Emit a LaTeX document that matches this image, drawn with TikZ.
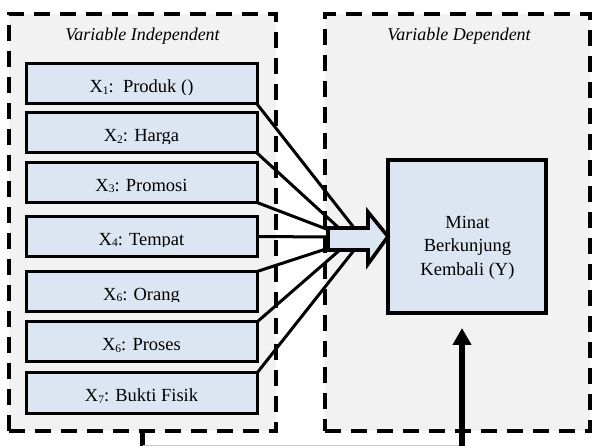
\documentclass[tikz,border=0pt]{standalone}
\usepackage{fontspec}
\setmainfont{Liberation Serif}
\usetikzlibrary{calc,arrows.meta}

\definecolor{panelgray}{HTML}{F2F2F2}
\definecolor{boxblue}{HTML}{DCE6F2}
\definecolor{railgray}{HTML}{C8C8C8}

% small, slightly lowered index digit
\newcommand\xsub[1]{\raisebox{-1.2pt}{\fontsize{11.5}{12}\selectfont #1}}

% label of a variable box, clipped just under its baseline
\newcommand\boxlabel[2]{%
  \begin{scope}
    \clip (#1.north west) rectangle ($(#1.south east)+(0,-9.5)$);
    \node[anchor=base, inner sep=0pt, font=\fontsize{18.5}{22}\selectfont]
      at ($(#1.south)+(0,-11)$) {#2};
  \end{scope}}

\begin{document}
\begin{tikzpicture}[x=1pt, y=-1pt,
  panel/.style={draw=black, fill=panelgray, line width=3.6pt,
    dash pattern=on 16pt off 10pt, outer sep=0pt, inner sep=0pt},
  varbox/.style={draw=black, fill=boxblue, line width=3pt, outer sep=0pt,
    inner sep=0pt, minimum width=231pt, minimum height=40pt},
  ybox/.style={draw=black, fill=boxblue, line width=3.8pt, outer sep=0pt,
    inner sep=0pt, minimum width=158pt, minimum height=153pt},
  title/.style={font=\itshape\fontsize{18}{22}\selectfont, anchor=base, inner sep=0pt},
  link/.style={draw=black, line width=3pt},
  feed/.style={draw=black, line width=5.5pt}
]
\useasboundingbox (0,0) rectangle (592,446);

% the two variable panels
\node[panel, minimum width=267pt, minimum height=417pt] (indep) at (142.5,222.5) {};
\node[panel, minimum width=265pt, minimum height=417pt] (dep) at (457.5,222.5) {};
\node[title] (tindep) at (142.5,41) {Variable Independent};
\node[title] (tdep) at (459,41) {Variable Dependent};

% independent variables
\node[varbox] (x1) at (141.5,84) {};
\node[varbox] (x2) at (141.5,133) {};
\node[varbox] (x3) at (141.5,182.5) {};
\node[varbox] (x4) at (141.5,236.5) {};
\node[varbox] (x5) at (141.5,291.5) {};
\node[varbox] (x6) at (141.5,342) {};
\node[varbox] (x7) at (141.5,393) {};
\boxlabel{x1}{X\xsub{1}:\ \ Produk ()}
\boxlabel{x2}{X\xsub{2}: Harga}
\boxlabel{x3}{X\xsub{3}: Promosi}
\boxlabel{x4}{X\xsub{4}: Tempat}
\boxlabel{x5}{X\xsub{6}: Orang}
\boxlabel{x6}{X\xsub{6}: Proses}
\boxlabel{x7}{X\xsub{7}: Bukti Fisik}

% dependent variable
\node[ybox] (y) at (467,236.5) {};
\node[align=center, inner sep=0pt, font=\fontsize{18.5}{23.5}\selectfont]
  (ytext) at (467.5,247.5) {Minat\\Berkunjung\\Kembali (Y)};

% ends of the converging links on the block arrow
\coordinate (a1) at (355,229);
\coordinate (a2) at (340,229);
\coordinate (a3) at (329,230);
\coordinate (a4) at (329,237);
\coordinate (a5) at (329,248);
\coordinate (a6) at (341,249);
\coordinate (a7) at (355,249);

\draw[link] (x1.south east) -- (a1);
\draw[link] (x2.south east) -- (a2);
\draw[link] (x3.south east) -- (a3);
\draw[link] (x4.east) -- (a4);
\draw[link] (x5.north east) -- (a5);
\draw[link] (x6.north east) -- (a6);
\draw[link] (x7.north east) -- (a7);

% block arrow into the dependent variable
\draw[draw=black, fill=boxblue, line width=3.6pt, miter limit=10]
  (328,228) -- (368,228) -- (368,212) -- (y.west) -- (368,264)
  -- (368,250) -- (328,250) -- cycle;

% feedback line under the panels
\coordinate (bl) at (142.5,446);
\coordinate (br) at (462,446);
\coordinate (tip) at (462,328);
\draw[feed] (indep.south) -- (bl);
\draw[railgray, line width=1pt] (142.5,445) -- (462,445);
\draw[feed, -{Triangle[width=18pt,length=17pt]}] (br) -- (tip);
\end{tikzpicture}
\end{document}
